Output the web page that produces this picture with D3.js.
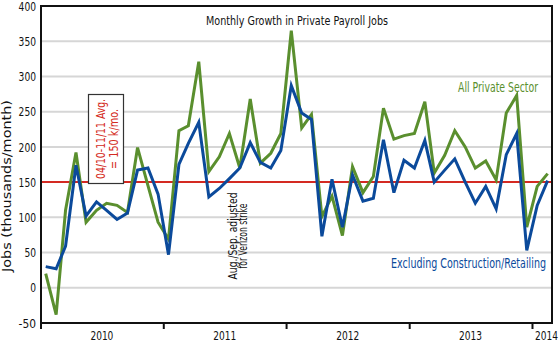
<!DOCTYPE html>
<html>
<head>
<meta charset="utf-8">
<script src="https://cdn.jsdelivr.net/npm/d3@7"></script>
<style>
  body { margin: 0; background: #fff; }
  text { font-family: "Liberation Sans Narrow", "DejaVu Sans Condensed", sans-serif; }
</style>
</head>
<body>
<script>
var width = 560, height = 344;

// months Jan 2010 - Feb 2014
var months = [
  "2010-01","2010-02","2010-03","2010-04","2010-05","2010-06","2010-07","2010-08","2010-09","2010-10","2010-11","2010-12",
  "2011-01","2011-02","2011-03","2011-04","2011-05","2011-06","2011-07","2011-08","2011-09","2011-10","2011-11","2011-12",
  "2012-01","2012-02","2012-03","2012-04","2012-05","2012-06","2012-07","2012-08","2012-09","2012-10","2012-11","2012-12",
  "2013-01","2013-02","2013-03","2013-04","2013-05","2013-06","2013-07","2013-08","2013-09","2013-10","2013-11","2013-12",
  "2014-01","2014-02"
];

// thousands of jobs per month
var allPrivate = [
  20, -38, 110, 192, 93, 110, 120, 117, 107, 199, 145, 93,
  69, 223, 230, 321, 165, 186, 219, 170, 268, 177, 191, 219,
  365, 227, 246, 101, 130, 74, 172, 135, 158, 255, 211, 216,
  219, 264, 163, 188, 223, 200, 170, 180, 153, 248, 273, 86,
  144, 162
];
var exclConstRetail = [
  30, 27, 59, 174, 102, 122, 110, 97, 106, 167, 170, 133,
  47, 175, 205, 235, 129, 141, 155, 170, 206, 178, 170, 195,
  287, 248, 239, 73, 154, 86, 160, 123, 127, 210, 135, 181,
  170, 209, 150, 167, 183, 150, 120, 144, 112, 189, 219, 53,
  117, 152
];

var yTicks = [-50, 0, 50, 100, 150, 200, 250, 300, 350, 400];
var yearLabels = ["2010", "2011", "2012", "2013", "2014"];
var avgValue = 150;

var green = "#5a8f2e", blue = "#0b4a9b", red = "#d42a22";

var parseMonth = d3.timeParse("%Y-%m");
var dates = months.map(function(m) { var d = parseMonth(m); return new Date(d.getFullYear(), d.getMonth(), 15); });

// squeeze text to a given width (the reference uses a condensed face)
function fit(sel, w) {
  sel.attr("textLength", w).attr("lengthAdjust", "spacingAndGlyphs");
  return sel;
}

var svg = d3.select("body").append("svg")
    .attr("width", width)
    .attr("height", height);

var mLeft = 41, mRight = 552, mTop = 6, mBottom = 323;

var x = d3.scaleTime()
    .domain([new Date(2010, 0, 1), new Date(2014, 1, 28)])
    .range([mLeft, mRight]);

var y = d3.scaleLinear()
    .domain([-50, 400])
    .range([mBottom, mTop]);

// gridlines
svg.append("g").selectAll("line")
    .data(yTicks.filter(function(d) { return d > -50 && d < 400; }))
    .enter().append("line")
    .attr("x1", mLeft).attr("x2", mRight)
    .attr("y1", function(d) { return y(d); })
    .attr("y2", function(d) { return y(d); })
    .attr("stroke", "#d6d6d6")
    .attr("stroke-width", 2);

// y tick labels
svg.append("g").selectAll("text")
    .data(yTicks)
    .enter().append("text")
    .attr("x", 36)
    .attr("y", function(d) { return y(d); })
    .attr("dy", "0.36em")
    .attr("text-anchor", "end")
    .attr("font-size", 13)
    .attr("fill", "#111")
    .attr("textLength", function(d) { return String(d).length * 5.8; })
    .attr("lengthAdjust", "spacingAndGlyphs")
    .text(function(d) { return d; });

// x axis ticks at year starts
var yearStarts = yearLabels.map(function(yr) { return new Date(+yr, 0, 1); });
svg.append("g").selectAll("line")
    .data(yearStarts)
    .enter().append("line")
    .attr("x1", function(d) { return x(d); })
    .attr("x2", function(d) { return x(d); })
    .attr("y1", mBottom)
    .attr("y2", mBottom + 6)
    .attr("stroke", "#111")
    .attr("stroke-width", 2);

// year labels centred in each year (2014 at the last month)
svg.append("g").selectAll("text")
    .data(yearLabels)
    .enter().append("text")
    .attr("x", function(d) {
      return d === "2014" ? x(new Date(2014, 1, 12)) : x(new Date(+d, 6, 1));
    })
    .attr("y", 340)
    .attr("text-anchor", "middle")
    .attr("font-size", 13)
    .attr("fill", "#111")
    .attr("textLength", 23)
    .attr("lengthAdjust", "spacingAndGlyphs")
    .text(function(d) { return d; });

// average line
svg.append("line")
    .attr("x1", mLeft).attr("x2", mRight)
    .attr("y1", y(avgValue)).attr("y2", y(avgValue))
    .attr("stroke", red)
    .attr("stroke-width", 2);

// series
var line = d3.line()
    .x(function(d, i) { return x(dates[i]); })
    .y(function(d) { return y(d); });

svg.append("path")
    .datum(allPrivate)
    .attr("d", line)
    .attr("fill", "none")
    .attr("stroke", green)
    .attr("stroke-width", 3);

svg.append("path")
    .datum(exclConstRetail)
    .attr("d", line)
    .attr("fill", "none")
    .attr("stroke", blue)
    .attr("stroke-width", 3);

// frame
svg.append("rect")
    .attr("x", mLeft).attr("y", mTop)
    .attr("width", mRight - mLeft).attr("height", mBottom - mTop)
    .attr("fill", "none")
    .attr("stroke", "#111")
    .attr("stroke-width", 2);

// title
fit(svg.append("text")
    .attr("x", 297).attr("y", 25)
    .attr("text-anchor", "middle")
    .attr("font-size", 13)
    .attr("fill", "#111")
    .text("Monthly Growth in Private Payroll Jobs"), 182);

// y axis title
fit(svg.append("text")
    .attr("transform", "translate(11,186) rotate(-90)")
    .attr("text-anchor", "middle")
    .attr("font-size", 12)
    .attr("fill", "#111")
    .text("Jobs (thousands/month)"), 172);

// series labels
fit(svg.append("text")
    .attr("x", 538).attr("y", 92)
    .attr("text-anchor", "end")
    .attr("font-size", 14)
    .attr("fill", green)
    .text("All Private Sector"), 80);

fit(svg.append("text")
    .attr("x", 546).attr("y", 268)
    .attr("text-anchor", "end")
    .attr("font-size", 14)
    .attr("fill", blue)
    .text("Excluding Construction/Retailing"), 155);

// average annotation box
var box = svg.append("g").attr("transform", "translate(106,139)");
box.append("rect")
    .attr("x", -17.5).attr("y", -44.5)
    .attr("width", 35).attr("height", 89)
    .attr("fill", "#fff")
    .attr("stroke", "#333")
    .attr("stroke-width", 1.2);
var boxText = box.append("text")
    .attr("transform", "rotate(-90)")
    .attr("text-anchor", "middle")
    .attr("font-size", 13)
    .attr("fill", red);
fit(boxText.append("tspan").attr("x", 0).attr("y", -1).text("04/10-11/11 Avg."), 80);
fit(boxText.append("tspan").attr("x", 0).attr("y", 12).text("= 150 k/mo."), 60);

// Verizon strike note
var note = svg.append("text")
    .attr("transform", "translate(237,236) rotate(-90)")
    .attr("text-anchor", "middle")
    .attr("font-size", 13)
    .attr("fill", "#111");
fit(note.append("tspan").attr("x", 0).attr("y", 0).text("Aug./Sep. adjusted"), 87);
fit(note.append("tspan").attr("x", 0).attr("y", 10).text("for Verizon strike"), 65);
</script>
</body>
</html>
